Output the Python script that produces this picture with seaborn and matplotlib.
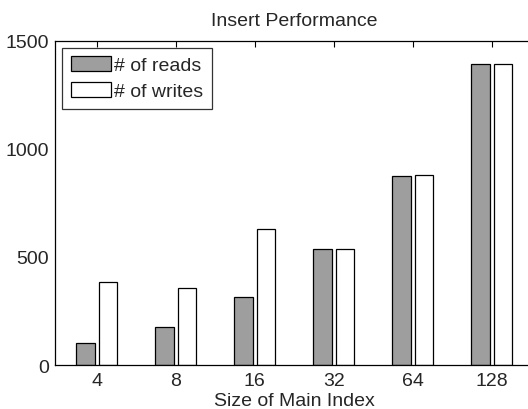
import matplotlib
matplotlib.use("Agg")
import matplotlib.pyplot as plt
import seaborn as sns
import pandas as pd
from matplotlib.patches import Patch

# Grouped bar data: number of block reads/writes per main-index size
index_sizes = ["4", "8", "16", "32", "64", "128"]
reads = [100, 177, 313, 537, 876, 1390]
writes = [382, 356, 630, 535, 878, 1390]
series_names = ["# of reads", "# of writes"]

df = pd.DataFrame({
    "size": index_sizes * 2,
    "count": reads + writes,
    "kind": [series_names[0]] * len(reads) + [series_names[1]] * len(writes),
})

FS = 14

sns.set_style("white")
plt.rcParams["font.family"] = ["Liberation Sans", "DejaVu Sans"]
plt.rcParams["font.size"] = FS

fig = plt.figure(figsize=(5.28, 4.10), dpi=100)
ax = fig.add_axes([0.1042, 0.1073, 0.906, 0.791])

colors = {series_names[0]: "#9e9e9e", series_names[1]: "#ffffff"}
sns.barplot(data=df, x="size", y="count", hue="kind", order=index_sizes,
            hue_order=series_names, palette=colors, width=0.572, gap=0.18,
            edgecolor="black", linewidth=0.9, ax=ax, legend=False)

ax.set_xlim(-0.528, len(index_sizes) - 1 + 0.528)
ax.set_ylim(0, 1500)
ax.set_yticks([0, 500, 1000, 1500])
ax.tick_params(axis="both", direction="in", length=4, color="black",
               labelsize=FS, top=True, right=False)
ax.tick_params(axis="x", pad=5)
ax.tick_params(axis="y", pad=4.5)

for side in ["left", "bottom", "top"]:
    ax.spines[side].set_visible(True)
    ax.spines[side].set_color("black")
    ax.spines[side].set_linewidth(0.9)
ax.spines["right"].set_visible(False)

ax.set_title("Insert Performance", fontsize=FS, pad=11)
ax.set_xlabel("Size of Main Index", fontsize=FS, labelpad=2)
ax.set_ylabel("")

handles = [Patch(facecolor=colors[n], edgecolor="black", linewidth=0.9)
           for n in series_names]
leg = ax.legend(handles, series_names, loc="upper left", fontsize=FS,
                frameon=True, fancybox=False, edgecolor="black",
                handlelength=2.1, handleheight=0.8, handletextpad=0.15,
                borderpad=0.45, labelspacing=0.4, borderaxespad=0.35)
leg.get_frame().set_linewidth(0.9)

fig.savefig("out.png", dpi=100)
